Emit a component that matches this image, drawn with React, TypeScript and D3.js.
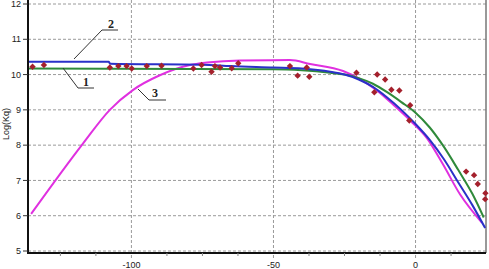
import React from "react";
import * as d3 from "d3";

const xTicks = [-100, -50, 0];
const xMinorTicks = [-125, -112.5, -87.5, -75, -62.5, -37.5, -25, -12.5, 12.5];
const yTicks = [5, 6, 7, 8, 9, 10, 11, 12];

// curve 2 (blue)
const blueX = [-136.4, -108, -107.5, -75, -65, -50, -40, -30, -25, -20, -15, -10, -5, 0, 5, 10, 15, 20, 24.5];
const blueY = [10.36, 10.36, 10.31, 10.28, 10.24, 10.2, 10.17, 10.08, 10.0, 9.86, 9.65, 9.35, 9.0, 8.6, 8.15, 7.6, 6.95, 6.3, 5.65];

// curve 1 (green)
const greenX = [-136.4, -50, -40, -30, -25, -20, -15, -10, -5, 0, 5, 10, 15, 20, 24];
const greenY = [10.17, 10.15, 10.12, 10.05, 10.0, 9.9, 9.74, 9.5, 9.22, 8.92, 8.5, 7.95, 7.3, 6.62, 5.95];

// curve 3 (magenta)
const magX = [-135.3, -117, -107.6, -99.5, -90, -79.4, -73.4, -61.8, -44.2, -37.1, -25.5, -13.6, -7.9, -1.9, 4, 9.7, 15.7, 23.4];
const magY = [6.05, 8.05, 9.0, 9.56, 9.98, 10.27, 10.34, 10.4, 10.41, 10.3, 10.1, 9.55, 9.15, 8.7, 8.2, 7.45, 6.6, 5.8];

// measured points
const ptX = [-134.8, -130.8, -107.6, -104.6, -101.7, -99.9, -94.6, -89.4, -78.2, -75.3, -71.8, -70.6, -68.8, -64.7, -62.4, -44.2, -41.5, -38.3, -37.4, -20.8, -13.5, -10.7, -14.5, -8.5, -5.7, -1.9, -2.2, 17.8, 20.6, 21.9, 24.6, 24.5];
const ptY = [10.22, 10.27, 10.2, 10.24, 10.24, 10.17, 10.24, 10.25, 10.17, 10.27, 10.08, 10.24, 10.2, 10.18, 10.32, 10.24, 9.97, 10.2, 9.94, 10.05, 10.0, 9.86, 9.5, 9.57, 9.55, 9.13, 8.7, 7.25, 7.15, 6.9, 6.64, 6.47];

export default function App() {
  const W = 489, H = 269;
  const left = 28, right = 486, top = 0, bottom = 253;
  const x = d3.scaleLinear().domain([-136.4, 24.8]).range([left, right]);
  const y = d3.scaleLinear().domain([5, 12]).range([251, 4]);

  const line = (xs: number[], ys: number[]) =>
    d3.line<number>().x((_, i) => x(xs[i])).y((_, i) => y(ys[i])).curve(d3.curveMonotoneX)(xs) || "";

  const grid = "#9a9a9a";
  const sans = "Arial, 'Liberation Sans', sans-serif";
  const serif = "'Times New Roman', 'Liberation Serif', serif";

  return (
    <svg width={W} height={H} style={{ position: "absolute", left: 0, top: 0, background: "#fff" }}>
      <rect x={0} y={0} width={W} height={H} fill="#fff" />
      {/* grid */}
      {yTicks.map((t) => (
        <line key={"gy" + t} x1={left} x2={right} y1={y(t)} y2={y(t)} stroke={grid} strokeWidth={1} strokeDasharray="3,2" />
      ))}
      {xTicks.map((t) => (
        <line key={"gx" + t} x1={x(t)} x2={x(t)} y1={top} y2={bottom + 5} stroke={grid} strokeWidth={1} strokeDasharray="3,2" />
      ))}
      {/* right border */}
      <line x1={right} x2={right} y1={top} y2={bottom} stroke="#777" strokeWidth={1.5} />
      {/* curves */}
      <path d={line(magX, magY)} fill="none" stroke="#e030e0" strokeWidth={2} />
      <path d={line(greenX, greenY)} fill="none" stroke="#2f8a3a" strokeWidth={2} />
      <path d={line(blueX, blueY)} fill="none" stroke="#2a30c8" strokeWidth={2} />
      {/* points */}
      {ptX.map((px, i) => {
        const cx = x(px), cy = y(ptY[i]);
        return (
          <path key={"p" + i} d={`M${cx},${cy - 3.2}L${cx + 3.2},${cy}L${cx},${cy + 3.2}L${cx - 3.2},${cy}Z`} fill="#a4202c" />
        );
      })}
      {/* axes */}
      <line x1={left} x2={left} y1={top} y2={bottom + 1} stroke="#111" strokeWidth={2} />
      <line x1={left - 1} x2={right} y1={bottom} y2={bottom} stroke="#111" strokeWidth={2} />
      {yTicks.map((t) => (
        <g key={"yt" + t}>
          <line x1={left - 5} x2={left} y1={y(t)} y2={y(t)} stroke="#333" strokeWidth={1} />
          <text x={left - 7} y={y(t)} dy="0.35em" textAnchor="end" fontSize={9} fontFamily={sans} fill="#222">{t}</text>
        </g>
      ))}
      {xMinorTicks.map((t) => (
        <line key={"xm" + t} x1={x(t)} x2={x(t)} y1={bottom} y2={bottom + 3} stroke="#888" strokeWidth={1} />
      ))}
      {xTicks.map((t) => (
        <text key={"xt" + t} x={x(t)} y={268} textAnchor="middle" fontSize={9} fontFamily={sans} fill="#222">{t}</text>
      ))}
      <text transform={`translate(9,124) rotate(-90)`} textAnchor="middle" fontSize={9} fontFamily={sans} fill="#222">Log(Kq)</text>
      {/* annotations */}
      <polyline points="118,30 102,30 74,59" fill="none" stroke="#333" strokeWidth={1} />
      <text x={111} y={28} textAnchor="middle" fontSize={12} fontWeight="bold" fontFamily={serif} fill="#222">2</text>
      <polyline points="63,68 78,88 94,88" fill="none" stroke="#333" strokeWidth={1} />
      <text x={86} y={86} textAnchor="middle" fontSize={12} fontWeight="bold" fontFamily={serif} fill="#222">1</text>
      <polyline points="138,89 149,100 166,100" fill="none" stroke="#333" strokeWidth={1} />
      <text x={155} y={97} textAnchor="middle" fontSize={12} fontWeight="bold" fontFamily={serif} fill="#222">3</text>
    </svg>
  );
}
